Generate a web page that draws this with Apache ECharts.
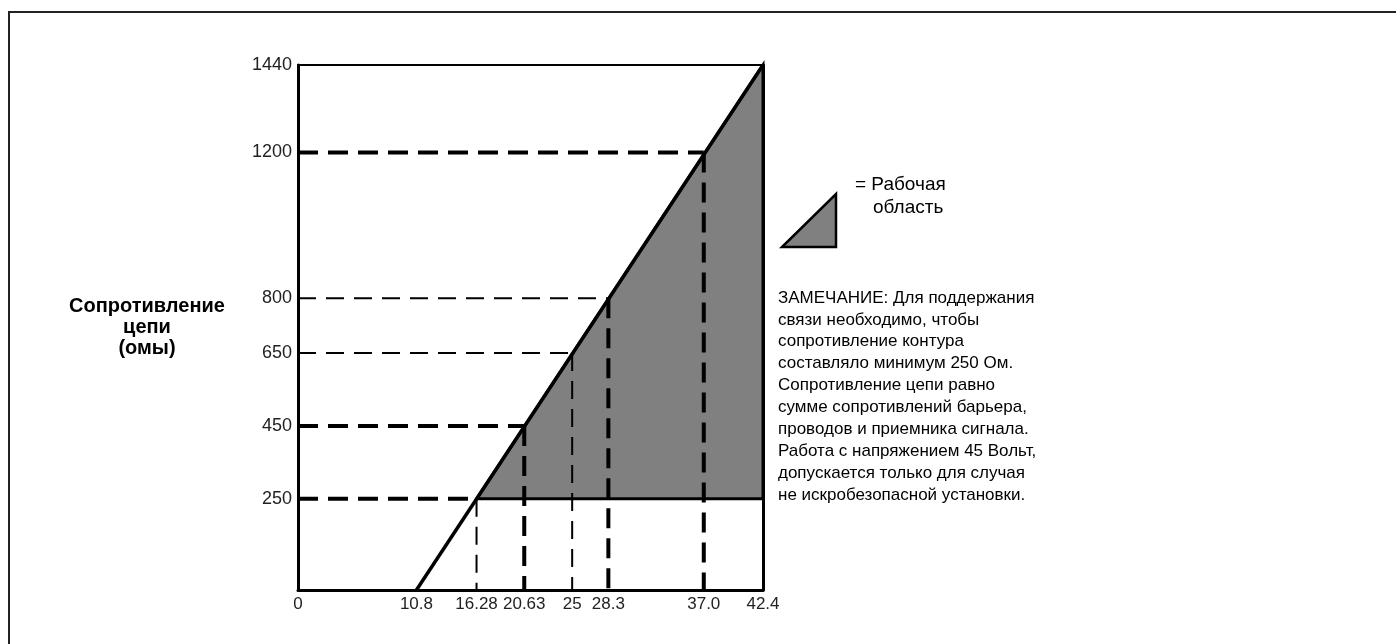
<!DOCTYPE html>
<html>
<head>
<meta charset="utf-8">
<script src="https://cdn.jsdelivr.net/npm/echarts@6/dist/echarts.min.js"></script>
<style>
  html, body { margin: 0; padding: 0; background: #fff; }
  #chart { width: 1396px; height: 644px; }
</style>
</head>
<body>
<div id="chart"></div>
<script>
// напряжение питания (В) и сопротивление цепи (Ом)
const xTicks = [0, 10.8, 16.28, 20.63, 25, 28.3, 37.0, 42.4];
const xTickLabels = ['0', '10.8', '16.28', '20.63', '25', '28.3', '37.0', '42.4'];
const yTicks = [250, 450, 650, 800, 1200, 1440];
const yTickLabels = ['250', '450', '650', '800', '1200', '1440'];

// линия нагрузки
const loadVolts = [10.8, 42.4];
const loadOhms = [0, 1440];

// рабочая область
const areaVolts = [16.28, 42.4, 42.4];
const areaOhms = [250, 1440, 250];

// пунктирные уровни
const levelVolts = [16.28, 20.63, 25, 28.3, 37.0];
const levelOhms = [250, 450, 650, 800, 1200];

const noteLines = [
  'ЗАМЕЧАНИЕ: Для поддержания',
  'связи необходимо, чтобы',
  'сопротивление контура',
  'составляло минимум 250 Ом.',
  'Сопротивление цепи равно',
  'сумме сопротивлений барьера,',
  'проводов и приемника сигнала.',
  'Работа с напряжением 45 Вольт,',
  'допускается только для случая',
  'не искробезопасной установки.'
];

const chart = echarts.init(document.getElementById('chart'));
const font = '"Liberation Sans", Arial, Helvetica, sans-serif';

// толщина пунктира: горизонталь / вертикаль
const thickH = [true, true, false, false, true];
const thickV = [false, true, false, true, true];
const dashStyle = (thick) => ({
  color: '#000',
  width: thick ? 4 : 2,
  type: thick ? [20, 10] : [18, 10],
  cap: 'butt'
});

const guideSeries = [];
levelOhms.forEach((r, i) => {
  const v = levelVolts[i];
  guideSeries.push({
    type: 'line',
    data: [[0, r], [v, r]],
    symbol: 'none',
    silent: true,
    z: 3,
    lineStyle: dashStyle(thickH[i])
  });
  guideSeries.push({
    type: 'line',
    data: [[v, r], [v, 0]],
    symbol: 'none',
    silent: true,
    z: 3,
    lineStyle: dashStyle(thickV[i])
  });
});

const option = {
  animation: false,
  backgroundColor: '#fff',
  textStyle: { fontFamily: font },
  grid: { left: 298, top: 65, right: 633, bottom: 54, containLabel: false },
  xAxis: [
    {
      type: 'value',
      min: 0,
      max: 42.4,
      position: 'bottom',
      axisLine: { show: true, lineStyle: { color: '#000', width: 3 } },
      axisTick: { show: false },
      splitLine: { show: false },
      axisLabel: {
        customValues: xTicks,
        formatter: (val) => {
          const i = xTicks.findIndex((t) => Math.abs(t - val) < 1e-6);
          return i >= 0 ? xTickLabels[i] : '';
        },
        color: '#222',
        fontSize: 17,
        fontFamily: font,
        margin: 6,
        showMinLabel: true,
        showMaxLabel: true,
        hideOverlap: false
      }
    },
    {
      type: 'value',
      min: 0,
      max: 42.4,
      position: 'top',
      axisLine: { show: true, onZero: false, lineStyle: { color: '#000', width: 2 } },
      axisTick: { show: false },
      axisLabel: { show: false },
      splitLine: { show: false }
    }
  ],
  yAxis: [
    {
      type: 'value',
      min: 0,
      max: 1440,
      position: 'left',
      name: 'Сопротивление\nцепи\n(омы)',
      nameLocation: 'middle',
      nameRotate: 0,
      nameGap: 151,
      nameTextStyle: {
        color: '#000',
        fontSize: 20,
        fontWeight: 'bold',
        fontFamily: font,
        align: 'center',
        lineHeight: 21
      },
      axisLine: { show: true, lineStyle: { color: '#000', width: 3 } },
      axisTick: { show: false },
      splitLine: { show: false },
      axisLabel: {
        customValues: yTicks,
        formatter: (val) => {
          const i = yTicks.findIndex((t) => Math.abs(t - val) < 1e-6);
          return i >= 0 ? yTickLabels[i] : '';
        },
        color: '#222',
        fontSize: 18,
        fontFamily: font,
        margin: 6
      }
    },
    {
      type: 'value',
      min: 0,
      max: 1440,
      position: 'right',
      axisLine: { show: true, onZero: false, lineStyle: { color: '#000', width: 3 } },
      axisTick: { show: false },
      axisLabel: { show: false },
      splitLine: { show: false }
    }
  ],
  series: [
    {
      type: 'custom',
      coordinateSystem: 'cartesian2d',
      silent: true,
      z: 1,
      clip: false,
      data: areaVolts.map((v, i) => [v, areaOhms[i]]),
      renderItem: (params, api) => {
        if (params.dataIndex !== 0) return null;
        const pts = areaVolts.map((v, i) => api.coord([v, areaOhms[i]]));
        return {
          type: 'polygon',
          shape: { points: pts },
          style: { fill: '#808080', stroke: '#000', lineWidth: 3 }
        };
      }
    },
    ...guideSeries,
    {
      type: 'line',
      data: loadVolts.map((v, i) => [v, loadOhms[i]]),
      symbol: 'none',
      silent: true,
      z: 4,
      lineStyle: { color: '#000', width: 3.5 }
    }
  ],
  graphic: [
    {
      type: 'rect',
      shape: { x: 9, y: 12, width: 1420, height: 700 },
      style: { fill: 'none', stroke: '#222', lineWidth: 2 },
      silent: true
    },
    {
      type: 'polygon',
      shape: { points: [[782, 247], [836, 247], [836, 194]] },
      style: { fill: '#808080', stroke: '#000', lineWidth: 2.5 },
      silent: true
    },
    {
      type: 'text',
      left: 855,
      top: 175,
      style: { text: '= Рабочая', fill: '#000', font: '19px ' + font },
      silent: true
    },
    {
      type: 'text',
      left: 873,
      top: 198,
      style: { text: 'область', fill: '#000', font: '19px ' + font },
      silent: true
    },
    {
      type: 'text',
      left: 778,
      top: 287,
      style: {
        text: noteLines.join('\n'),
        fill: '#000',
        font: '17px ' + font,
        lineHeight: 21.9
      },
      silent: true
    }
  ]
};

chart.setOption(option);
</script>
</body>
</html>
